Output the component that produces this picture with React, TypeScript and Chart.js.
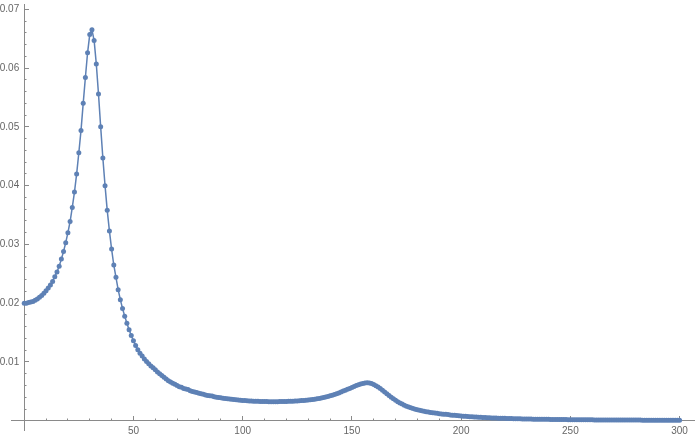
import React, { useEffect, useRef } from "react";
import { Chart, registerables } from "chart.js";

Chart.register(...registerables);

const xValues: number[] = Array.from({ length: 301 }, (_, i) => i);

const yValues: number[] = [
  0.0200, 0.0200, 0.0201, 0.0202, 0.0203, 0.0205, 0.0207, 0.0210, 0.0213, 0.0217,
  0.0221, 0.0226, 0.0231, 0.0237, 0.0245, 0.0253, 0.0263, 0.0275, 0.0288, 0.0303,
  0.0320, 0.0339, 0.0363, 0.0389, 0.0420, 0.0456, 0.0494, 0.0540, 0.0584, 0.0626,
  0.0657, 0.0665, 0.0647, 0.0607, 0.0556, 0.0500, 0.0447, 0.0400, 0.0358, 0.0323,
  0.0292, 0.0265, 0.0244, 0.0223, 0.0206, 0.0191, 0.0178, 0.0166, 0.0155, 0.0145,
  0.0136, 0.0128, 0.0121, 0.0115, 0.0110, 0.0105, 0.0101, 0.0097, 0.0093, 0.0090,
  0.0087, 0.0083, 0.0080, 0.0077, 0.0074, 0.0071, 0.0068, 0.0066, 0.0064, 0.0062,
  0.0060, 0.0058, 0.0057, 0.0055, 0.0054, 0.0053, 0.0051, 0.0050, 0.0049, 0.0048,
  0.0047, 0.0046, 0.0045, 0.0044, 0.0043, 0.00425, 0.0042, 0.0041, 0.0040, 0.00395,
  0.0039, 0.00385, 0.0038, 0.00375, 0.0037, 0.00366, 0.00362, 0.00358, 0.00354, 0.0035,
  0.00346, 0.00343, 0.0034, 0.00337, 0.00335, 0.00333, 0.00331, 0.0033, 0.00329, 0.00328,
  0.00327, 0.00326, 0.00325, 0.00325, 0.00325, 0.00325, 0.00325, 0.00326, 0.00327, 0.00328,
  0.00329, 0.0033, 0.00332, 0.00333, 0.00335, 0.00337, 0.0034, 0.00343, 0.00346, 0.0035,
  0.00354, 0.00358, 0.00362, 0.00367, 0.00373, 0.0038, 0.00387, 0.00395, 0.00404, 0.00414,
  0.00424, 0.00435, 0.00447, 0.0046, 0.00474, 0.00489, 0.00505, 0.0052, 0.00535, 0.0055,
  0.00565, 0.00582, 0.00598, 0.00612, 0.00624, 0.00634, 0.00642, 0.00646, 0.00643, 0.00633,
  0.00617, 0.00597, 0.00574, 0.00548, 0.0052, 0.00491, 0.00461, 0.00431, 0.00402, 0.00374,
  0.00348, 0.00325, 0.00304, 0.00284, 0.00266, 0.00249, 0.00234, 0.0022, 0.00207, 0.00196,
  0.00186, 0.00177, 0.00169, 0.00161, 0.00154, 0.00148, 0.00142, 0.00136, 0.00131, 0.00126,
  0.00121, 0.00117, 0.00113, 0.00109, 0.00105, 0.001, 0.00096, 0.00092, 0.00088, 0.00085,
  0.00082, 0.00079, 0.00076, 0.00073, 0.0007, 0.00068, 0.00065, 0.00063, 0.00061, 0.00059,
  0.00057, 0.00055, 0.00053, 0.00051, 0.00049, 0.00048, 0.00046, 0.00045, 0.00043, 0.00042,
  0.00041, 0.0004, 0.00038, 0.00037, 0.00036, 0.00035, 0.00034, 0.00033, 0.00032, 0.00031,
  0.00031, 0.0003, 0.00029, 0.00028, 0.00028, 0.00027, 0.00026, 0.00026, 0.00025, 0.00024,
  0.00024, 0.00023, 0.00023, 0.00022, 0.00022, 0.00021, 0.00021, 0.0002, 0.0002, 0.00019,
  0.00019, 0.00019, 0.00018, 0.00018, 0.00018, 0.00017, 0.00017, 0.00017, 0.00016, 0.00016,
  0.00016, 0.00015, 0.00015, 0.00015, 0.00015, 0.00014, 0.00014, 0.00014, 0.00014, 0.00013,
  0.00013, 0.00013, 0.00013, 0.00012, 0.00012, 0.00012, 0.00012, 0.00012, 0.00011, 0.00011,
  0.00011, 0.00011, 0.00011, 0.0001, 0.0001, 0.0001, 0.0001, 0.0001, 0.0001, 0.00009,
  0.00009, 0.00009, 0.00009, 0.00009, 0.00009, 0.00009, 0.00008, 0.00008, 0.00008, 0.00008,
  0.00008,
];

const xMajorTicks: number[] = [50, 100, 150, 200, 250, 300];
const xTickLabels: string[] = ["50", "100", "150", "200", "250", "300"];
const xMinorTicks: number[] = [
  10, 20, 30, 40, 60, 70, 80, 90, 110, 120, 130, 140, 160, 170, 180, 190,
  210, 220, 230, 240, 260, 270, 280, 290,
];
const yMajorTicks: number[] = [0.01, 0.02, 0.03, 0.04, 0.05, 0.06, 0.07];
const yTickLabels: string[] = ["0.01", "0.02", "0.03", "0.04", "0.05", "0.06", "0.07"];
const yMinorTicks: number[] = [
  0.002, 0.004, 0.006, 0.008, 0.012, 0.014, 0.016, 0.018, 0.022, 0.024, 0.026, 0.028,
  0.032, 0.034, 0.036, 0.038, 0.042, 0.044, 0.046, 0.048, 0.052, 0.054, 0.056, 0.058,
  0.062, 0.064, 0.066, 0.068,
];

const X_MIN = -6.05;
const X_MAX = 306.6;
const Y_MIN = -0.00157;
const Y_MAX = 0.0709;

const AXIS_COLOR = "#8a8a8a";
const LABEL_COLOR = "#666666";
const LINE_COLOR = "#5E81B5";
// gap between y tick labels and the y axis (labels are right-aligned on the axis)
const Y_LABEL_GAP = "\u2002";

const zeroPadding = (scale: any) => {
  scale.paddingTop = 0;
  scale.paddingBottom = 0;
  scale.paddingLeft = 0;
  scale.paddingRight = 0;
};

export default function App() {
  const canvasRef = useRef<HTMLCanvasElement | null>(null);

  useEffect(() => {
    document.body.style.margin = "0";
    const canvas = canvasRef.current;
    if (!canvas) return;

    const labelFont = { family: "'Liberation Sans', Arial, sans-serif", size: 10 };

    const chart = new Chart(canvas, {
      type: "line",
      data: {
        labels: xValues,
        datasets: [
          {
            data: yValues,
            borderColor: LINE_COLOR,
            backgroundColor: LINE_COLOR,
            borderWidth: 1.5,
            pointRadius: 2.5,
            pointBorderWidth: 0,
            pointBackgroundColor: LINE_COLOR,
            tension: 0,
            fill: false,
            xAxisID: "x",
            yAxisID: "y",
          },
        ],
      },
      options: {
        animation: false,
        responsive: false,
        devicePixelRatio: 1,
        layout: { padding: { left: 11, top: 0, right: 0, bottom: 8 } },
        plugins: {
          legend: { display: false },
          tooltip: { enabled: false },
        },
        scales: {
          x: {
            type: "linear",
            axis: "x",
            min: X_MIN,
            max: X_MAX,
            position: { y: 0 } as any,
            afterFit: zeroPadding,
            afterBuildTicks: (scale: any) => {
              scale.ticks = xMajorTicks.map((v) => ({ value: v }));
            },
            border: { display: true, color: AXIS_COLOR, width: 1 },
            grid: {
              display: true,
              drawOnChartArea: false,
              drawTicks: true,
              tickLength: -5,
              tickColor: AXIS_COLOR,
              tickWidth: 1,
            },
            ticks: {
              autoSkip: false,
              maxRotation: 0,
              padding: 9,
              color: LABEL_COLOR,
              font: labelFont,
              callback: (_v: any, i: number) => xTickLabels[i],
            },
          },
          xMinor: {
            type: "linear",
            axis: "x",
            min: X_MIN,
            max: X_MAX,
            position: { y: 0 } as any,
            afterFit: zeroPadding,
            afterBuildTicks: (scale: any) => {
              scale.ticks = xMinorTicks.map((v) => ({ value: v }));
            },
            border: { display: false },
            grid: {
              display: true,
              drawOnChartArea: false,
              drawTicks: true,
              tickLength: -2.5,
              tickColor: AXIS_COLOR,
              tickWidth: 1,
            },
            ticks: {
              autoSkip: false,
              maxRotation: 0,
              padding: 0,
              font: labelFont,
              callback: () => "",
            },
          },
          y: {
            type: "linear",
            axis: "y",
            min: Y_MIN,
            max: Y_MAX,
            position: { x: 0 } as any,
            afterFit: zeroPadding,
            afterBuildTicks: (scale: any) => {
              scale.ticks = yMajorTicks.map((v) => ({ value: v }));
            },
            border: { display: true, color: AXIS_COLOR, width: 1 },
            grid: {
              display: true,
              drawOnChartArea: false,
              drawTicks: true,
              tickLength: -5,
              tickColor: AXIS_COLOR,
              tickWidth: 1,
            },
            ticks: {
              autoSkip: false,
              padding: 9,
              color: LABEL_COLOR,
              font: labelFont,
              callback: (_v: any, i: number) => yTickLabels[i] + Y_LABEL_GAP,
            },
          },
          yMinor: {
            type: "linear",
            axis: "y",
            min: Y_MIN,
            max: Y_MAX,
            position: { x: 0 } as any,
            afterFit: zeroPadding,
            afterBuildTicks: (scale: any) => {
              scale.ticks = yMinorTicks.map((v) => ({ value: v }));
            },
            border: { display: false },
            grid: {
              display: true,
              drawOnChartArea: false,
              drawTicks: true,
              tickLength: -2.5,
              tickColor: AXIS_COLOR,
              tickWidth: 1,
            },
            ticks: {
              autoSkip: false,
              padding: 0,
              font: labelFont,
              callback: () => "",
            },
          },
        },
      } as any,
    });

    return () => {
      chart.destroy();
    };
  }, []);

  return (
    <canvas
      ref={canvasRef}
      width={698}
      height={438}
      style={{ display: "block", width: 698, height: 438 }}
    />
  );
}
